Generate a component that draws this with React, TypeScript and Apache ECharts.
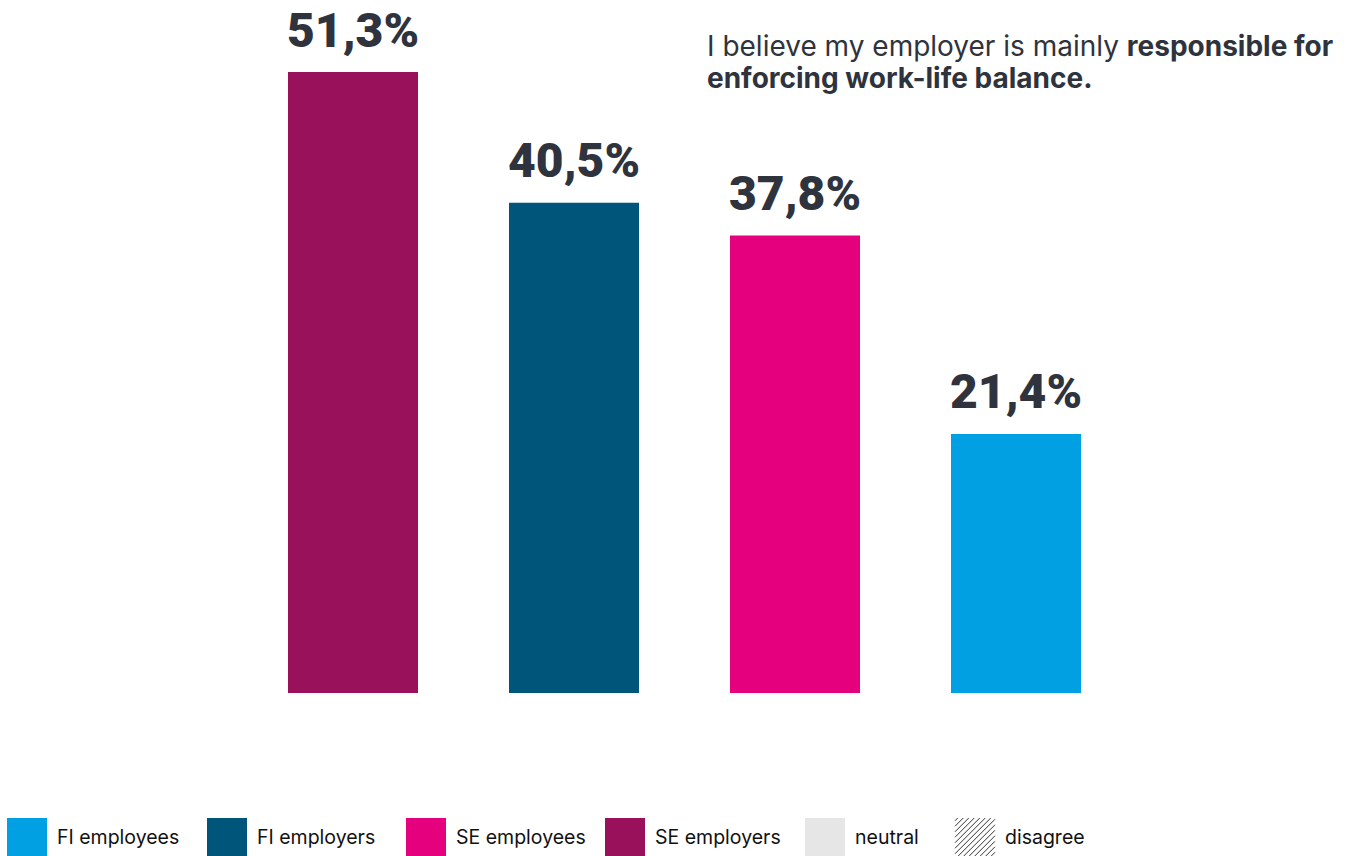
import React, { useEffect, useRef } from "react";
import * as echarts from "echarts";

const categories = ["SE employers", "FI employers", "SE employees", "FI employees"];
const values = [51.3, 40.5, 37.8, 21.4];
const barColors = ["#98115a", "#00557a", "#e5007e", "#00a0e3"];
const valueLabels = ["51,3%", "40,5%", "37,8%", "21,4%"];
const legendNames = ["FI employees", "FI employers", "SE employees", "SE employers", "neutral", "disagree"];
const legendColors = ["#00a0e3", "#00557a", "#e5007e", "#98115a", "#e6e6e6", "hatch"];
const legendX = [7, 207, 406, 605, 805, 955];

const TEXT = "#2e333d";
const FONT = "Inter, 'Noto Sans', sans-serif";
const LABEL_FONT = "Roboto, Inter, sans-serif";

function hatchLines(x0: number, y0: number, size: number, step: number) {
  const els: any[] = [];
  for (let c = -size + step / 2; c < size; c += step) {
    const tMin = Math.max(0, -c);
    const tMax = Math.min(size, size - c);
    if (tMax <= tMin) continue;
    els.push({
      type: "line",
      shape: {
        x1: x0 + c + tMin,
        y1: y0 + size - tMin,
        x2: x0 + c + tMax,
        y2: y0 + size - tMax,
      },
      style: { stroke: "#333", lineWidth: 1 },
      silent: true,
    });
  }
  return els;
}

export default function App() {
  const ref = useRef<HTMLDivElement>(null);
  useEffect(() => {
    document.body.style.margin = "0";
    const chart = echarts.init(ref.current!, undefined, { renderer: "svg" });
    const legendEls: any[] = [];
    legendNames.forEach((name, i) => {
      const x = legendX[i];
      if (legendColors[i] === "hatch") {
        hatchLines(x, 818, 40, 5.5).forEach((l) => legendEls.push(l));
      } else {
        legendEls.push({
          type: "rect",
          shape: { x, y: 818, width: 40, height: 40 },
          style: { fill: legendColors[i] },
          silent: true,
        });
      }
      legendEls.push({
        type: "text",
        x: x + 50,
        y: 837,
        style: {
          text: name,
          fill: "#111",
          font: `400 19.5px ${FONT}`,
          verticalAlign: "middle",
        },
        silent: true,
      });
    });
    chart.setOption({
      animation: false,
      backgroundColor: "#ffffff",
      grid: { left: 242.5, right: 1352 - 1126.5, top: 72, bottom: 163, containLabel: false },
      xAxis: {
        type: "category",
        data: categories,
        show: false,
      },
      yAxis: { type: "value", min: 0, max: 51.3, show: false },
      series: [
        {
          type: "bar",
          barWidth: 130,
          data: values.map((v, i) => ({ value: v, itemStyle: { color: barColors[i] } })),
          label: {
            show: true,
            position: "top",
            distance: 18,
            formatter: (p: any) => valueLabels[p.dataIndex],
            color: TEXT,
            fontFamily: LABEL_FONT,
            fontWeight: 900,
            fontSize: 48,
          },
        },
      ],
      graphic: [
        {
          type: "text",
          x: 707,
          y: 30,
          style: {
            text: "{n|I believe my employer is mainly }{b|responsible for}\n{b|enforcing work-life balance.}",
            rich: {
              n: { font: `400 28px ${FONT}`, fill: TEXT, lineHeight: 32 },
              b: { font: `700 28px ${FONT}`, fill: TEXT, lineHeight: 32 },
            },
          },
          silent: true,
        },
        ...legendEls,
      ],
    });
    return () => chart.dispose();
  }, []);
  return (
    <div
      ref={ref}
      style={{ position: "absolute", left: 0, top: 0, width: 1352, height: 856 }}
    />
  );
}
